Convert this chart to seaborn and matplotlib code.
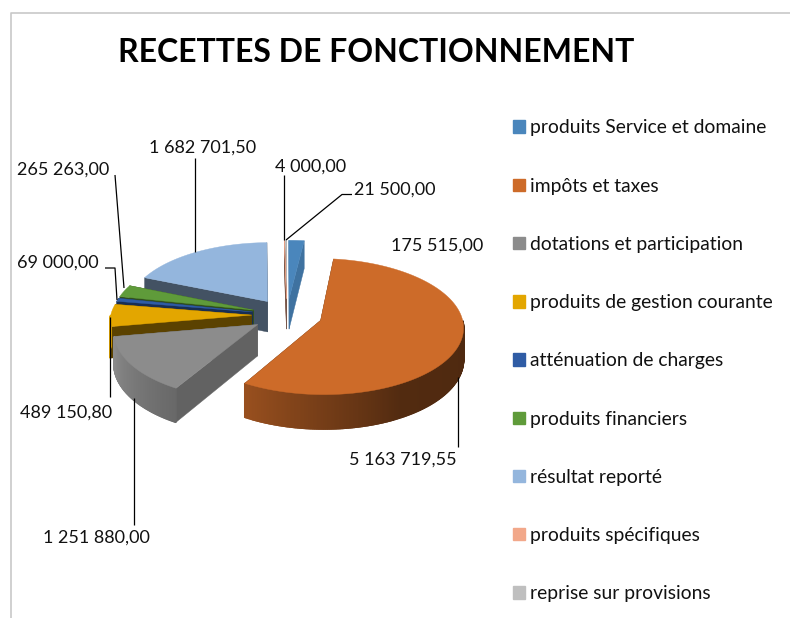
import numpy as np
import matplotlib
matplotlib.use("Agg")
import matplotlib.pyplot as plt
from matplotlib.patches import Patch
import seaborn as sns

categories = ["produits Service et domaine", "impôts et taxes", "dotations et participation",
              "produits de gestion courante", "atténuation de charges", "produits financiers",
              "résultat reporté", "produits spécifiques", "reprise sur provisions"]
values = [175515.00, 5163719.55, 1251880.00, 489150.80, 69000.00, 265263.00, 1682701.50, 4000.00, 21500.00]
colors = ["#4a86bc", "#cd6b29", "#8c8c8c", "#e3a600", "#2f5ca5", "#5f9b3a", "#94b6dd", "#f2a88a", "#bfbfbf"]
wall_shade = [0.85, 0.4, 0.7, 0.4, 0.5, 0.5, 0.45, 0.5, 0.5]

# geometrie du camembert 3D (en pixels)
cx, cy, rx, ry = 287, 315, 141, 66.5
persp = 0.09
depth = 31
explode = 0.25

# position des etiquettes: x, y, alignement
label_pos = [(391, 246, "left"), (349, 460, "left"), (43, 538, "left"), (20, 413, "left"),
             (17, 263, "left"), (17, 170, "left"), (149, 148, "left"), (275, 167, "left"), (354, 190, "left")]
# traits de rappel
leaders = [None,
           [(458, 447), (458, 377)],
           [(134, 525), (134, 398)],
           [(110, 397), (110, 317)],
           [(105, 268), (115, 268), (117, 300)],
           [(115, 175), (124, 288)],
           [(195, 158), (195, 252)],
           [(284, 175), (284, 240)],
           [(352, 194.5), (342, 194.5), (286, 240)]]


def project(u, v, z=0.0):
    s = 1 / (1 - persp * v)
    return cx + rx * u * s, cy + ry * v * s + depth * z * s


def rgb_shade(color, f):
    return tuple(np.array(matplotlib.colors.to_rgb(color)) * f)


def fmt(v):
    return f"{v:,.2f}".replace(",", " ").replace(".", ",")


sns.set_theme(style="white")
plt.rcParams["font.family"] = ["Lato", "DejaVu Sans"]

fig = plt.figure(figsize=(7.9, 6.18), dpi=100)
ax = fig.add_axes([0, 0, 1, 1])
ax.set_xlim(0, 790)
ax.set_ylim(618, 0)
ax.axis("off")

# cadre
ax.plot([11, 11, 790], [618, 12.5, 12.5], color="#c8c8c8", lw=1.2)

edges = np.concatenate([[0], np.cumsum(values)]) / np.sum(values) * 360

for i in [0, 8, 7, 6, 5, 4, 3, 2, 1]:
    a0, a1 = edges[i], edges[i + 1]
    mid = np.radians((a0 + a1) / 2)
    ox, oy = explode * np.sin(mid), -explode * np.cos(mid)
    th = np.radians(np.linspace(a0, a1, max(int(a1 - a0) * 2, 2) + 1))
    us = ox + np.sin(th)
    vs = oy - np.cos(th)

    # faces radiales
    for t in (th[0], th[-1]):
        u1, v1 = ox + np.sin(t), oy - np.cos(t)
        pts = [project(ox, oy), project(u1, v1), project(u1, v1, 1), project(ox, oy, 1)]
        ax.fill(*zip(*pts), color=rgb_shade(colors[i], wall_shade[i]), lw=0.3)

    # bord exterieur avec degrade
    for k in range(len(th) - 1):
        deg = np.degrees((th[k] + th[k + 1]) / 2)
        if deg < 90 or deg > 270:
            continue
        f = np.interp(deg, [90, 150, 212, 262], [0.38, 0.4, 0.75, 1.0])
        pts = [project(us[k], vs[k]), project(us[k + 1], vs[k + 1]),
               project(us[k + 1], vs[k + 1], 1), project(us[k], vs[k], 1)]
        ax.fill(*zip(*pts), color=rgb_shade(colors[i], f), lw=1.2)

    # dessus
    pts = [project(ox, oy)] + [project(a, b) for a, b in zip(us, vs)]
    ax.fill(*zip(*pts), color=colors[i], lw=0.3)

for line in leaders:
    if line:
        ax.plot(*zip(*line), color="black", lw=0.9, solid_capstyle="butt")

for v, (x, y, ha) in zip(values, label_pos):
    ax.text(x, y, fmt(v), fontsize=13.0, ha=ha, va="center", color="#111111")

ax.text(376, 52, "RECETTES DE FONCTIONNEMENT", fontsize=23, fontweight="bold",
        ha="center", va="center", color="black")

handles = [Patch(color=c, label=n) for c, n in zip(colors, categories)]
ax.legend(handles=handles, loc="upper left", bbox_to_anchor=(513 / 790, 1 - 119.5 / 618),
          bbox_transform=fig.transFigure, frameon=False, fontsize=13.9, labelcolor="#111111",
          handlelength=0.62, handleheight=0.62, handletextpad=0.26, labelspacing=2.135,
          borderpad=0, borderaxespad=0)

fig.savefig("out.png", dpi=100)
